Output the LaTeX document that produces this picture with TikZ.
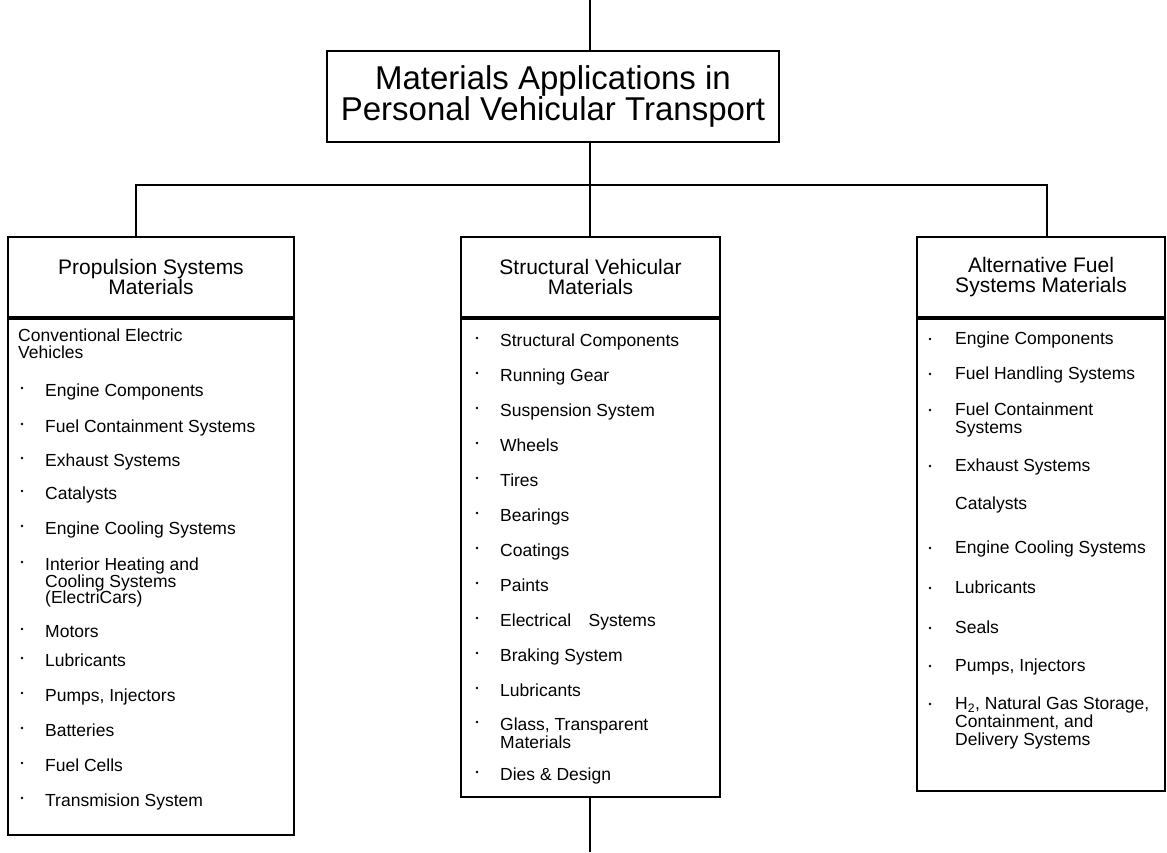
\documentclass[tikz,border=0pt]{standalone}
\usepackage{fontspec}
\setmainfont{Liberation Sans}
\usetikzlibrary{positioning}

\tikzset{
  titlebox/.style={draw,line width=2pt,minimum width=452pt,minimum height=91pt,
    align=center,inner sep=0pt,font=\fontsize{33}{28}\selectfont},
  headbox/.style={draw,line width=2pt,minimum height=80pt,align=center,
    inner sep=0pt,font=\fontsize{21}{20}\selectfont},
  bodybox/.style={draw,line width=2pt,anchor=north,inner sep=0pt},
  item/.style={anchor=north west,inner sep=0pt,align=left,
    font=\fontsize{17.5}{16.5}\selectfont},
  link/.style={line width=2pt}
}

\begin{document}
\begin{tikzpicture}[x=1pt,y=-1pt]
\useasboundingbox (0,0) rectangle (1167,852);

\node[titlebox] (title) at (553,96.5) {Materials Applications in\\Personal Vehicular Transport};

% the three branches
\node[headbox,minimum width=286pt] (prop) at (151,277) {Propulsion Systems\\Materials};
\node[bodybox,minimum width=286pt,minimum height=516pt] (propbody) at (prop.south) {};
\node[headbox,minimum width=259pt] (struct) at (590.5,277) {Structural Vehicular\\Materials};
\node[bodybox,minimum width=259pt,minimum height=478pt] (structbody) at (struct.south) {};
\node[headbox,minimum width=248pt] (alt) at (1041,277) {Alternative Fuel\\Systems Materials};
\node[bodybox,minimum width=248pt,minimum height=472pt] (altbody) at (alt.south) {};

% connectors
\coordinate (head) at (590,0);
\coordinate (tail) at (590,852);
\coordinate (busL) at (136,185);
\coordinate (busR) at (1047,185);
\draw[link] (head) -- (head |- title.north);
\draw[link] (title.south -| head) -- (head |- busL) -- (head |- struct.north);
\draw[link] (busL |- prop.north) -- (busL) -- (busR) -- (busR |- alt.north);
\draw[link] (structbody.south -| tail) -- (tail);

% propulsion list (y = baseline of first line)
\node[item] (prop-top) at (18,329) {Conventional Electric\\Vehicles};
\foreach \y/\txt in {397/{Engine Components},433/{Fuel Containment Systems},
  467/{Exhaust Systems},500/{Catalysts},535/{Engine Cooling Systems},
  571/{Interior Heating and\\Cooling Systems\\(ElectriCars)},638/{Motors},
  667/{Lubricants},702/{Pumps, Injectors},737/{Batteries},772/{Fuel Cells},
  807/{Transmision System}}{
  \fill (22,{\y-9}) circle (1.3pt);
  \node[item] (prop-\y) at (45,{\y-13}) {\txt};
}

% structural list
\foreach \y/\txt in {347/{Structural Components},382/{Running Gear},
  417/{Suspension System},452/{Wheels},487/{Tires},522/{Bearings},
  557/{Coatings},592/{Paints},627/{Electrical\quad Systems},662/{Braking System},
  697/{Lubricants},731/{Glass, Transparent\\[1.5pt]Materials},781/{Dies \& Design}}{
  \fill (477,{\y-9}) circle (1.3pt);
  \node[item] (struct-\y) at (500,{\y-13}) {\txt};
}

% alternative fuel list
\foreach \y/\txt in {345/{Engine Components},380/{Fuel Handling Systems},
  416/{Fuel Containment\\[1.5pt]Systems},472/{Exhaust Systems},554/{Engine Cooling Systems},
  594/{Lubricants},634/{Seals},672/{Pumps, Injectors},
  710/{H\textsubscript{2}, Natural Gas Storage,\\[1.5pt]Containment, and\\[1.5pt]Delivery Systems}}{
  \fill (930,{\y-6}) circle (1.3pt);
  \node[item] (alt-\y) at (955,{\y-13}) {\txt};
}
\node[item] (alt-510) at (955,497) {Catalysts};
\end{tikzpicture}
\end{document}
